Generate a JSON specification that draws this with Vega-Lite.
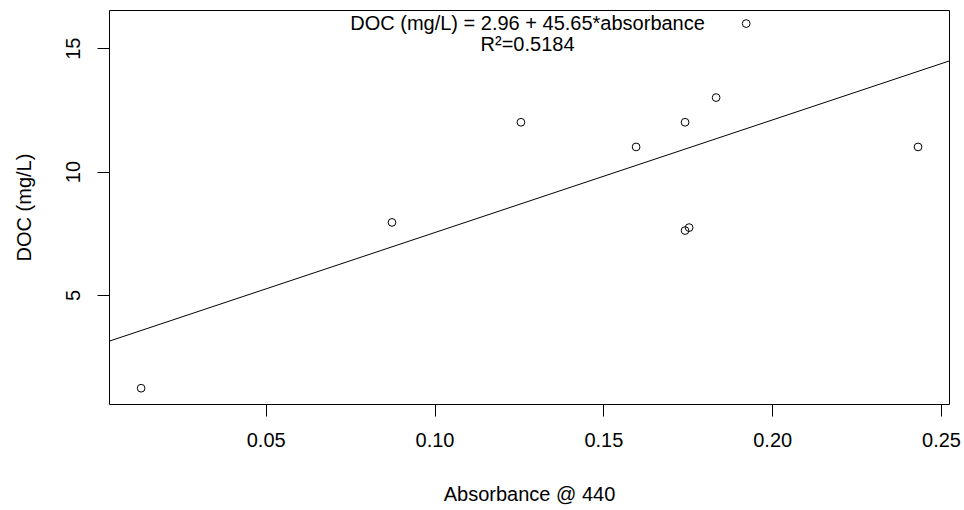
{
  "$schema": "https://vega.github.io/schema/vega-lite/v6.json",
  "width": 840,
  "height": 394,
  "autosize": "none",
  "padding": {"left": 109, "top": 10, "right": 15, "bottom": 106},
  "background": "white",
  "config": {
    "view": {"stroke": "black", "strokeWidth": 1},
    "axis": {
      "domain": false,
      "grid": false,
      "tickColor": "black",
      "tickSize": 12,
      "tickWidth": 1,
      "labelFont": "Liberation Sans",
      "labelFontSize": 20,
      "labelColor": "black",
      "titleFont": "Liberation Sans",
      "titleFontSize": 20,
      "titleFontWeight": "normal",
      "titleColor": "black"
    }
  },
  "datasets": {
    "pts": [
      {"absorbance": 0.0131, "doc": 1.22},
      {"absorbance": 0.0874, "doc": 7.94},
      {"absorbance": 0.1256, "doc": 12},
      {"absorbance": 0.1597, "doc": 11},
      {"absorbance": 0.1742, "doc": 12},
      {"absorbance": 0.1742, "doc": 7.61},
      {"absorbance": 0.1754, "doc": 7.73},
      {"absorbance": 0.1834, "doc": 13},
      {"absorbance": 0.1923, "doc": 16},
      {"absorbance": 0.2432, "doc": 11}
    ],
    "fit": [
      {"absorbance": 0.00359, "doc": 3.124},
      {"absorbance": 0.25237, "doc": 14.481}
    ],
    "labels": [
      {"absorbance": 0.12755, "doc": 15.985, "label": "DOC (mg/L) = 2.96 + 45.65*absorbance"},
      {"absorbance": 0.12755, "doc": 15.13, "label": "R²=0.5184"}
    ]
  },
  "encoding": {
    "x": {
      "field": "absorbance",
      "type": "quantitative",
      "scale": {"domain": [0.00359, 0.25237], "nice": false, "zero": false},
      "axis": {"values": [0.05, 0.1, 0.15, 0.2, 0.25], "format": ".2f", "title": "Absorbance @ 440", "labelPadding": 14, "titlePadding": 34}
    },
    "y": {
      "field": "doc",
      "type": "quantitative",
      "scale": {"domain": [0.58, 16.55], "nice": false, "zero": false},
      "axis": {"values": [5, 10, 15], "title": "DOC (mg/L)", "labelAngle": -90, "labelAlign": "center", "labelBaseline": "bottom", "labelPadding": 14, "titlePadding": 29}
    }
  },
  "layer": [
    {
      "data": {"name": "fit"},
      "mark": {"type": "line", "color": "black", "strokeWidth": 1, "clip": true}
    },
    {
      "data": {"name": "pts"},
      "mark": {"type": "point", "shape": "circle", "filled": false, "stroke": "black", "strokeWidth": 1, "size": 60, "opacity": 1}
    },
    {
      "data": {"name": "labels"},
      "mark": {"type": "text", "font": "Liberation Sans", "fontSize": 20, "color": "black", "align": "center", "baseline": "middle"},
      "encoding": {"text": {"field": "label", "type": "nominal"}}
    }
  ]
}
